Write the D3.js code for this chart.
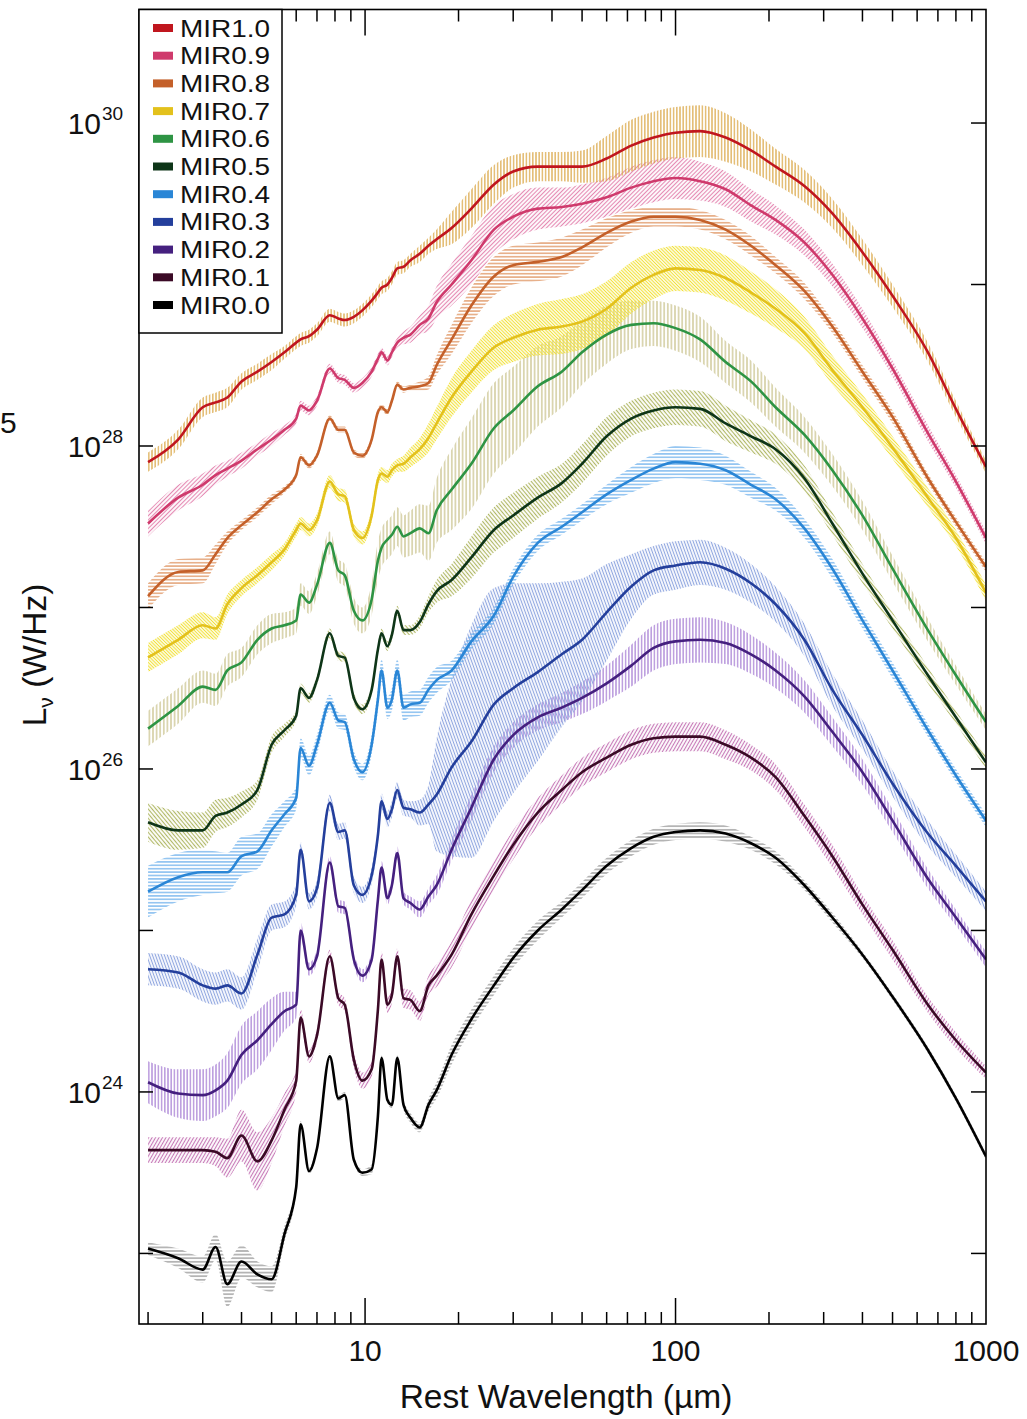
<!DOCTYPE html>
<html><head><meta charset="utf-8">
<script src="https://cdn.jsdelivr.net/npm/d3@7"></script>
<style>
body{margin:0;background:#fff;}
svg{display:block;font-family:"Liberation Sans",Arial,Helvetica,sans-serif;}
</style></head><body>
<svg id="c" width="1027" height="1419"></svg>
<script>
// ---------------- DATA ----------------
const wavelengths = [2,2.5,3,3.3,3.6,4,4.5,5,5.5,6,6.2,6.6,7,7.7,8.2,8.6,9.2,9.8,10.5,11,11.3,11.8,12.2,12.7,13.3,14,15,16,17,19,22,26,30,36,43,50,60,72,85,100,120,145,175,210,260,320,400,500,650,800,1000];

const seriesNames = ["MIR1.0","MIR0.9","MIR0.8","MIR0.7","MIR0.6","MIR0.5","MIR0.4","MIR0.3","MIR0.2","MIR0.1","MIR0.0"];

// log10 L_nu (W/Hz)
const lumMIR10 = [27.90,28.04,28.24,28.27,28.30,28.40,28.46,28.52,28.58,28.64,28.66,28.68,28.72,28.81,28.79,28.78,28.80,28.84,28.90,28.95,28.98,29.00,29.04,29.10,29.11,29.15,29.19,29.24,29.28,29.35,29.47,29.62,29.70,29.73,29.73,29.73,29.78,29.86,29.91,29.94,29.95,29.91,29.83,29.73,29.61,29.44,29.20,28.93,28.58,28.23,27.87];
const lumMIR09 = [27.52,27.68,27.76,27.82,27.86,27.91,27.98,28.04,28.10,28.17,28.25,28.22,28.28,28.48,28.42,28.41,28.36,28.39,28.46,28.54,28.58,28.53,28.58,28.64,28.67,28.69,28.75,28.79,28.89,29.00,29.15,29.34,29.42,29.47,29.48,29.50,29.54,29.60,29.64,29.66,29.64,29.59,29.49,29.40,29.26,29.06,28.79,28.48,28.08,27.78,27.43];
const lumMIR08 = [27.07,27.22,27.23,27.33,27.43,27.51,27.59,27.67,27.73,27.82,27.93,27.88,27.94,28.17,28.10,28.10,27.96,27.94,28.04,28.21,28.24,28.21,28.28,28.38,28.35,28.36,28.37,28.39,28.50,28.66,28.87,29.05,29.12,29.14,29.17,29.23,29.32,29.39,29.42,29.42,29.40,29.34,29.24,29.12,28.96,28.74,28.46,28.18,27.80,27.53,27.25];
const lumMIR07 = [26.69,26.80,26.89,26.87,27.02,27.12,27.20,27.28,27.36,27.48,27.52,27.48,27.54,27.78,27.70,27.69,27.48,27.43,27.57,27.79,27.83,27.81,27.85,27.88,27.89,27.93,27.98,28.05,28.14,28.30,28.46,28.61,28.67,28.72,28.74,28.77,28.85,28.98,29.06,29.10,29.09,29.04,28.95,28.85,28.70,28.47,28.24,27.99,27.68,27.43,27.09];
const lumMIR06 = [26.25,26.39,26.51,26.49,26.61,26.66,26.80,26.87,26.89,26.92,27.08,27.03,27.14,27.40,27.23,27.20,26.98,26.92,27.05,27.29,27.37,27.42,27.45,27.50,27.44,27.46,27.49,27.46,27.60,27.73,27.89,28.11,28.22,28.37,28.46,28.58,28.69,28.75,28.76,28.73,28.66,28.52,28.40,28.24,28.07,27.85,27.57,27.24,26.86,26.58,26.29];
const lumMIR05 = [25.67,25.62,25.62,25.71,25.73,25.78,25.87,26.15,26.24,26.33,26.50,26.44,26.55,26.84,26.70,26.69,26.44,26.37,26.49,26.74,26.84,26.76,26.83,26.98,26.86,26.86,26.91,27.02,27.10,27.17,27.31,27.48,27.57,27.68,27.77,27.89,28.06,28.17,28.22,28.24,28.23,28.14,28.06,27.98,27.80,27.52,27.21,26.92,26.58,26.32,26.04];
const lumMIR04 = [25.24,25.33,25.36,25.36,25.36,25.46,25.49,25.62,25.72,25.82,26.13,26.02,26.15,26.41,26.30,26.29,26.06,25.98,26.15,26.43,26.61,26.38,26.43,26.61,26.38,26.40,26.41,26.49,26.55,26.61,26.79,26.95,27.19,27.40,27.50,27.59,27.70,27.79,27.86,27.90,27.89,27.85,27.76,27.67,27.49,27.24,26.92,26.61,26.24,25.96,25.68];
const lumMIR03 = [24.76,24.74,24.66,24.64,24.66,24.61,24.85,25.08,25.10,25.22,25.50,25.18,25.26,25.79,25.61,25.62,25.28,25.22,25.34,25.59,25.80,25.69,25.75,25.87,25.76,25.75,25.73,25.78,25.84,26.01,26.17,26.40,26.50,26.60,26.71,26.80,26.97,27.13,27.23,27.26,27.28,27.24,27.15,27.02,26.80,26.49,26.21,25.91,25.60,25.40,25.18];
const lumMIR02 = [24.06,23.99,23.98,24.01,24.07,24.23,24.32,24.42,24.50,24.54,25.00,24.76,24.84,25.42,25.15,25.14,24.82,24.72,24.82,25.19,25.39,25.20,25.28,25.48,25.20,25.17,25.13,25.21,25.28,25.50,25.76,26.06,26.21,26.32,26.38,26.44,26.53,26.64,26.75,26.79,26.80,26.78,26.71,26.61,26.45,26.23,25.98,25.68,25.32,25.08,24.82];
const lumMIR01 = [23.64,23.64,23.64,23.63,23.59,23.73,23.57,23.70,23.89,24.07,24.46,24.22,24.35,24.84,24.58,24.54,24.20,24.07,24.14,24.51,24.82,24.54,24.60,24.84,24.58,24.57,24.50,24.66,24.72,24.85,25.10,25.34,25.53,25.73,25.87,25.98,26.07,26.15,26.19,26.20,26.20,26.15,26.07,25.95,25.71,25.46,25.16,24.88,24.54,24.32,24.12];
const lumMIR00 = [23.03,22.97,22.90,23.04,22.81,22.95,22.87,22.84,23.12,23.41,23.80,23.51,23.65,24.22,23.96,23.98,23.58,23.50,23.52,23.85,24.21,23.95,23.92,24.21,23.92,23.84,23.78,23.92,24.01,24.23,24.45,24.66,24.83,25.00,25.13,25.25,25.40,25.51,25.58,25.61,25.62,25.60,25.54,25.45,25.28,25.08,24.85,24.59,24.26,23.96,23.60];

// half-width of the uncertainty band, dex
const errMIR10 = [0.06,0.06,0.06,0.06,0.06,0.05,0.05,0.05,0.04,0.04,0.04,0.04,0.04,0.04,0.04,0.04,0.04,0.04,0.04,0.04,0.04,0.04,0.04,0.04,0.04,0.04,0.05,0.05,0.06,0.10,0.12,0.12,0.10,0.09,0.09,0.10,0.14,0.16,0.16,0.16,0.16,0.15,0.13,0.11,0.10,0.09,0.08,0.07,0.06,0.05,0.04];
const errMIR09 = [0.08,0.08,0.07,0.06,0.05,0.05,0.04,0.04,0.03,0.03,0.03,0.03,0.03,0.03,0.03,0.03,0.03,0.03,0.03,0.03,0.03,0.03,0.03,0.03,0.04,0.05,0.06,0.08,0.10,0.13,0.15,0.15,0.14,0.13,0.12,0.12,0.12,0.13,0.13,0.13,0.12,0.11,0.10,0.09,0.08,0.07,0.06,0.05,0.05,0.04,0.04];
const errMIR08 = [0.08,0.08,0.08,0.06,0.04,0.03,0.03,0.03,0.02,0.02,0.02,0.02,0.02,0.02,0.02,0.02,0.02,0.02,0.02,0.02,0.02,0.02,0.02,0.02,0.02,0.02,0.03,0.04,0.06,0.09,0.11,0.12,0.12,0.12,0.12,0.11,0.09,0.07,0.06,0.06,0.06,0.06,0.06,0.05,0.05,0.04,0.04,0.04,0.03,0.03,0.03];
const errMIR07 = [0.09,0.09,0.08,0.07,0.06,0.05,0.05,0.05,0.04,0.04,0.04,0.04,0.04,0.04,0.04,0.04,0.04,0.04,0.04,0.04,0.04,0.04,0.04,0.04,0.05,0.06,0.07,0.09,0.10,0.12,0.13,0.14,0.15,0.16,0.17,0.17,0.17,0.16,0.15,0.14,0.14,0.14,0.13,0.12,0.10,0.09,0.08,0.07,0.06,0.05,0.05];
const errMIR06 = [0.11,0.11,0.10,0.10,0.10,0.09,0.09,0.09,0.08,0.08,0.07,0.07,0.07,0.07,0.07,0.07,0.08,0.08,0.10,0.12,0.12,0.12,0.12,0.12,0.13,0.14,0.15,0.17,0.20,0.25,0.28,0.28,0.27,0.25,0.22,0.20,0.18,0.15,0.14,0.14,0.14,0.13,0.13,0.12,0.11,0.10,0.09,0.08,0.07,0.06,0.05];
const errMIR05 = [0.12,0.12,0.11,0.10,0.09,0.08,0.06,0.05,0.04,0.03,0.03,0.03,0.03,0.03,0.03,0.03,0.03,0.03,0.03,0.03,0.03,0.03,0.03,0.03,0.03,0.03,0.04,0.05,0.07,0.10,0.13,0.14,0.14,0.13,0.12,0.12,0.12,0.11,0.11,0.11,0.11,0.11,0.10,0.09,0.08,0.07,0.06,0.05,0.05,0.04,0.04];
const errMIR04 = [0.16,0.15,0.14,0.13,0.12,0.12,0.11,0.10,0.08,0.07,0.06,0.06,0.06,0.05,0.05,0.05,0.05,0.05,0.06,0.07,0.07,0.07,0.07,0.07,0.08,0.08,0.08,0.08,0.08,0.06,0.05,0.05,0.05,0.05,0.05,0.05,0.06,0.08,0.09,0.10,0.10,0.09,0.08,0.07,0.06,0.06,0.05,0.05,0.04,0.04,0.04];
const errMIR03 = [0.10,0.10,0.10,0.10,0.10,0.10,0.10,0.08,0.08,0.07,0.05,0.05,0.05,0.05,0.05,0.05,0.05,0.05,0.05,0.05,0.05,0.05,0.05,0.05,0.05,0.05,0.08,0.12,0.35,0.55,0.72,0.72,0.65,0.55,0.45,0.38,0.30,0.20,0.15,0.15,0.14,0.13,0.12,0.11,0.10,0.10,0.09,0.08,0.08,0.07,0.06];
const errMIR02 = [0.13,0.15,0.16,0.16,0.17,0.18,0.18,0.16,0.12,0.08,0.05,0.04,0.04,0.04,0.04,0.04,0.04,0.04,0.04,0.04,0.04,0.04,0.04,0.04,0.04,0.04,0.05,0.05,0.06,0.07,0.08,0.08,0.08,0.08,0.09,0.10,0.11,0.13,0.14,0.14,0.14,0.13,0.12,0.11,0.10,0.09,0.08,0.07,0.06,0.05,0.05];
const errMIR01 = [0.08,0.08,0.08,0.09,0.12,0.16,0.18,0.14,0.10,0.07,0.05,0.04,0.04,0.04,0.04,0.04,0.05,0.05,0.05,0.05,0.05,0.05,0.05,0.05,0.06,0.06,0.06,0.06,0.07,0.08,0.09,0.09,0.09,0.09,0.09,0.09,0.09,0.09,0.09,0.09,0.09,0.09,0.08,0.08,0.07,0.07,0.06,0.06,0.05,0.05,0.04];
const errMIR00 = [0.04,0.06,0.08,0.08,0.14,0.10,0.08,0.08,0.05,0.03,0.02,0.02,0.02,0.02,0.02,0.02,0.02,0.02,0.03,0.03,0.02,0.02,0.02,0.02,0.03,0.03,0.03,0.04,0.05,0.06,0.06,0.06,0.06,0.06,0.05,0.05,0.05,0.05,0.05,0.05,0.05,0.05,0.04,0.04,0.03,0.03,0.02,0.02,0.02,0.02,0.02];

const xTickLabels = ["10","100","1000"];
const yTickExponents = ["24","26","28","30"];

// ---------------- STYLE ----------------
const lineColors = ["#c0161e","#cf3a6c","#c4602a","#e3c11c","#2e9444","#0e3518","#2a86d6","#243f9c","#45207f","#3b0a26","#000000"];
const bandColors = ["#d9a441","#e58ab3","#dc8a52","#f2e13a","#c5bd82","#b0b866","#62aaea","#8fa6df","#a57bd2","#c77ab8","#8a8a8a"];
const bandAngles = [0,45,90,-45,0,-40,90,-20,0,30,90];
const bandSpacing = [3.2,3,3.4,2.4,3.6,3,3.4,2.8,3.2,3,3.6];

const lumSeries = [lumMIR10,lumMIR09,lumMIR08,lumMIR07,lumMIR06,lumMIR05,lumMIR04,lumMIR03,lumMIR02,lumMIR01,lumMIR00];
const errSeries = [errMIR10,errMIR09,errMIR08,errMIR07,errMIR06,errMIR05,errMIR04,errMIR03,errMIR02,errMIR01,errMIR00];

// ---------------- CHART ----------------
const svg = d3.select("#c");
const L = 139, R = 986, T = 9.5, B = 1324;
const x = d3.scaleLog().domain([1.87, 1000]).range([L, R]);
const y = d3.scaleLog().domain([Math.pow(10,22.563), Math.pow(10,30.703)]).range([B, T]);

const defs = svg.append("defs");
defs.append("clipPath").attr("id","plotclip").append("rect")
  .attr("x", L).attr("y", T).attr("width", R-L).attr("height", B-T);

seriesNames.forEach((n,i)=>{
  const s = bandSpacing[i];
  const p = defs.append("pattern").attr("id","hatch"+i)
    .attr("patternUnits","userSpaceOnUse").attr("width", s).attr("height", s)
    .attr("patternTransform", `rotate(${bandAngles[i]})`);
  p.append("line").attr("x1", s/2).attr("y1", -1).attr("x2", s/2).attr("y2", s+1)
    .attr("stroke", bandColors[i]).attr("stroke-width", 1.15);
});

const table = seriesNames.map((name,i)=>({
  name, color: lineColors[i], idx: i,
  pts: wavelengths.map((w,k)=>({w, v: lumSeries[i][k], e: errSeries[i][k]}))
}));

const line = d3.line().x(d=>x(d.w)).y(d=>y(Math.pow(10,d.v))).curve(d3.curveMonotoneX);
const area = d3.area().x(d=>x(d.w))
  .y0(d=>y(Math.pow(10,d.v-d.e))).y1(d=>y(Math.pow(10,d.v+d.e))).curve(d3.curveMonotoneX);

const plot = svg.append("g").attr("clip-path","url(#plotclip)");
const order = table.slice().reverse(); // MIR0.0 first, MIR1.0 last (on top)
plot.selectAll("path.band").data(order).enter().append("path").attr("class","band")
  .attr("d", d=>area(d.pts)).attr("fill", d=>`url(#hatch${d.idx})`).attr("stroke","none");
plot.selectAll("path.sed").data(order).enter().append("path").attr("class","sed")
  .attr("d", d=>line(d.pts)).attr("fill","none").attr("stroke", d=>d.color)
  .attr("stroke-width", 2.6).attr("stroke-linejoin","round");

// frame
svg.append("rect").attr("x",L).attr("y",T).attr("width",R-L).attr("height",B-T)
  .attr("fill","none").attr("stroke","#000").attr("stroke-width",1.6);

// x ticks (bottom and top, inward)
const xt = x.ticks().filter(t=>t>=2 && t<1000);
const isMajor = t => Math.abs(Math.log10(t) - Math.round(Math.log10(t))) < 1e-9;
const axG = svg.append("g").attr("stroke","#000").attr("stroke-width",1.5);
xt.forEach(t=>{
  const len = isMajor(t) ? 26 : 12;
  const px = x(t);
  axG.append("line").attr("x1",px).attr("x2",px).attr("y1",B).attr("y2",B-len);
  axG.append("line").attr("x1",px).attr("x2",px).attr("y1",T).attr("y2",T+len);
});
// y ticks (left and right, inward) at decades
const yt = y.ticks().filter(t=>isMajor(t));
yt.forEach(t=>{
  const py = y(t);
  axG.append("line").attr("x1",L).attr("x2",L+14).attr("y1",py).attr("y2",py);
  axG.append("line").attr("x1",R).attr("x2",R-15).attr("y1",py).attr("y2",py);
});

// x tick labels
xTickLabels.forEach(lbl=>{
  svg.append("text").attr("x", x(+lbl)).attr("y", 1361).attr("text-anchor","middle")
    .attr("font-size",30).attr("fill","#111").text(lbl);
});
// y tick labels
yTickExponents.forEach(ex=>{
  const py = y(Math.pow(10,+ex));
  svg.append("text").attr("x",101).attr("y",py+11).attr("text-anchor","end")
    .attr("font-size",30).attr("fill","#111").text("10");
  svg.append("text").attr("x",102).attr("y",py-3).attr("text-anchor","start")
    .attr("font-size",19).attr("fill","#111").text(ex);
});

// axis titles
svg.append("text").attr("x",566).attr("y",1408).attr("text-anchor","middle")
  .attr("font-size",33.5).attr("fill","#111").text("Rest Wavelength (\u00b5m)");
const yl = svg.append("text").attr("transform","translate(46,655) rotate(-90)")
  .attr("text-anchor","middle").attr("font-size",33.5).attr("fill","#111");
yl.append("tspan").text("L");
yl.append("tspan").attr("font-size",21).attr("dy",7).text("\u03bd");
yl.append("tspan").attr("dy",-7).text(" (W/Hz)");

// glyph at left edge of the figure
svg.append("text").attr("x",0).attr("y",433).attr("font-size",30).attr("fill","#111").text("5");

// legend
const lg = svg.append("g");
lg.append("rect").attr("x",L).attr("y",T).attr("width",143).attr("height",323.5)
  .attr("fill","#fff").attr("stroke","#000").attr("stroke-width",1.5);
seriesNames.forEach((n,i)=>{
  const cy = 28 + i*27.7;
  lg.append("rect").attr("x",153).attr("y",cy-4).attr("width",20).attr("height",8).attr("fill",lineColors[i]);
  lg.append("text").attr("x",180).attr("y",cy+8.5).attr("font-size",24)
    .attr("textLength",90).attr("lengthAdjust","spacingAndGlyphs")
    .attr("fill","#111").text(n);
});
</script>
</body></html>
